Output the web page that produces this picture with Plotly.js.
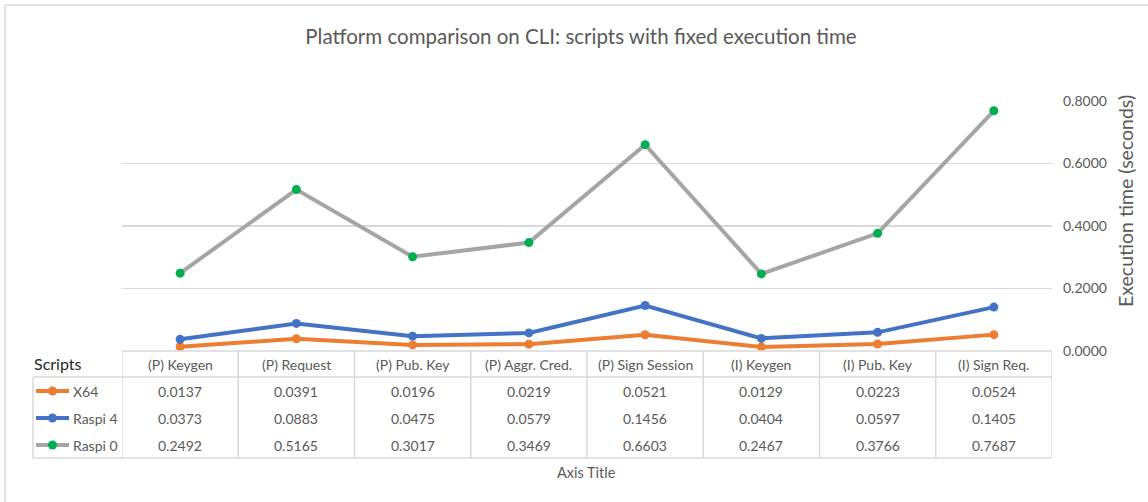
<!DOCTYPE html>
<html>
<head>
<meta charset="utf-8">
<script src="https://cdn.plot.ly/plotly-3.0.1.min.js"></script>
<style>html,body{margin:0;padding:0;background:#fff;}#chart{width:1148px;height:502px;}</style>
</head>
<body>
<div id="chart"></div>
<script>
const categories = ["(P) Keygen","(P) Request","(P) Pub. Key","(P) Aggr. Cred.","(P) Sign Session","(I) Keygen","(I) Pub. Key","(I) Sign Req."];
const seriesNames = ["X64","Raspi 4","Raspi 0"];
const x64 = [0.0137,0.0391,0.0196,0.0219,0.0521,0.0129,0.0223,0.0524];
const raspi4 = [0.0373,0.0883,0.0475,0.0579,0.1456,0.0404,0.0597,0.1405];
const raspi0 = [0.2492,0.5165,0.3017,0.3469,0.6603,0.2467,0.3766,0.7687];
const yTicks = [0,0.2,0.4,0.6,0.8];

const FONT = "Lato, 'Open Sans', sans-serif";
const W = 1148, H = 502;
const L = 122, R = 1052, T = 101, B = 351;
const px = v => (v - L) / (R - L);
const py = v => (B - v) / (B - T);

const lineColors = ["#ED7D31","#4472C4","#A5A5A5"];
const markerColors = ["#ED7D31","#4472C4","#00B050"];
const allSeries = [x64, raspi4, raspi0];

const traces = allSeries.map((vals, i) => ({
  type: "scatter", mode: "lines+markers",
  x: categories, y: vals, name: seriesNames[i],
  line: {color: lineColors[i], width: 4},
  marker: {color: markerColors[i], size: 9},
  yaxis: "y", showlegend: false, hoverinfo: "skip"
}));

const gridCol = "#D9D9D9";
const shapes = [];
const annotations = [];
const rowY = [391, 418, 445];
const headerY = 364;
const tTop = 351, tHead = 377, tBot = 458, tLeft = 33;

shapes.push({type:"line", xref:"paper", yref:"paper", x0:px(L), x1:px(R), y0:py(tTop), y1:py(tTop), line:{color:gridCol,width:1.5}});
shapes.push({type:"line", xref:"paper", yref:"paper", x0:px(tLeft), x1:px(R), y0:py(tHead), y1:py(tHead), line:{color:gridCol,width:1.5}});
shapes.push({type:"line", xref:"paper", yref:"paper", x0:px(tLeft), x1:px(R), y0:py(tBot), y1:py(tBot), line:{color:gridCol,width:1.5}});
shapes.push({type:"line", xref:"paper", yref:"paper", x0:px(tLeft), x1:px(tLeft), y0:py(tHead), y1:py(tBot), line:{color:gridCol,width:1.5}});
for (let k = 0; k <= categories.length; k++) {
  shapes.push({type:"line", xref:"x", yref:"paper", x0:k-0.5, x1:k-0.5, y0:py(tTop), y1:py(tBot), line:{color:gridCol,width:1.5}});
}
shapes.push({type:"line", xref:"paper", yref:"paper", x0:px(5), x1:px(W), y0:py(5), y1:py(5), line:{color:gridCol,width:1.5}});
shapes.push({type:"line", xref:"paper", yref:"paper", x0:px(5), x1:px(5), y0:py(5), y1:py(H), line:{color:gridCol,width:1.5}});

categories.forEach((c, k) => {
  annotations.push({xref:"x", yref:"paper", x:c, y:py(headerY), text:c, showarrow:false, xanchor:"center", yanchor:"middle", font:{family:FONT,size:14,color:"#595959"}});
});
allSeries.forEach((vals, i) => {
  vals.forEach((v, k) => {
    annotations.push({xref:"x", yref:"paper", x:categories[k], y:py(rowY[i]), text:v.toFixed(4), showarrow:false, xanchor:"center", yanchor:"middle", font:{family:FONT,size:14,color:"#595959"}});
  });
  shapes.push({type:"line", xref:"paper", yref:"paper", x0:px(36), x1:px(69), y0:py(rowY[i]), y1:py(rowY[i]), line:{color:lineColors[i],width:4}});
  const r = 4.5;
  shapes.push({type:"circle", xref:"paper", yref:"paper", x0:px(52.5-r), x1:px(52.5+r), y0:py(rowY[i]+r), y1:py(rowY[i]-r), fillcolor:markerColors[i], line:{width:0}});
  annotations.push({xref:"paper", yref:"paper", x:px(71), y:py(rowY[i]), text:seriesNames[i], showarrow:false, xanchor:"left", yanchor:"middle", font:{family:FONT,size:14,color:"#595959"}});
});
annotations.push({xref:"paper", yref:"paper", x:px(32), y:py(363), text:"Scripts", showarrow:false, xanchor:"left", yanchor:"middle", font:{family:FONT,size:16,color:"#262626"}});
annotations.push({xref:"paper", yref:"paper", x:px(586), y:py(472), text:"Axis Title", showarrow:false, xanchor:"center", yanchor:"middle", font:{family:FONT,size:14.5,color:"#595959"}});
annotations.push({xref:"paper", yref:"paper", x:px(1125), y:py(201), text:"Execution time (seconds)", textangle:-90, showarrow:false, xanchor:"center", yanchor:"middle", font:{family:FONT,size:19.5,color:"#595959"}});

const layout = {
  width: W, height: H,
  margin: {l: L, r: W - R, t: T, b: H - B, pad: 0},
  paper_bgcolor: "#fff", plot_bgcolor: "#fff",
  title: {text: "Platform comparison on CLI: scripts with fixed execution time", x: 581/W, xanchor: "center", y: 1 - 37/H, yanchor: "middle", font: {family: FONT, size: 20.5, color: "#595959"}},
  xaxis: {type: "category", range: [-0.5, 7.5], showticklabels: false, showgrid: false, zeroline: false, showline: false, ticks: "", fixedrange: true},
  yaxis: {side: "right", range: [0, 0.8], tickvals: yTicks, ticktext: yTicks.map(v => v.toFixed(4)), showgrid: true, gridcolor: gridCol, gridwidth: 1.5, zeroline: false, showline: false, ticks: "", ticklabelstandoff: 10, tickfont: {family: FONT, size: 14, color: "#595959"}},
  shapes: shapes, annotations: annotations, showlegend: false
};

Plotly.newPlot("chart", traces, layout, {displayModeBar: false, staticPlot: true});
</script>
</body>
</html>
